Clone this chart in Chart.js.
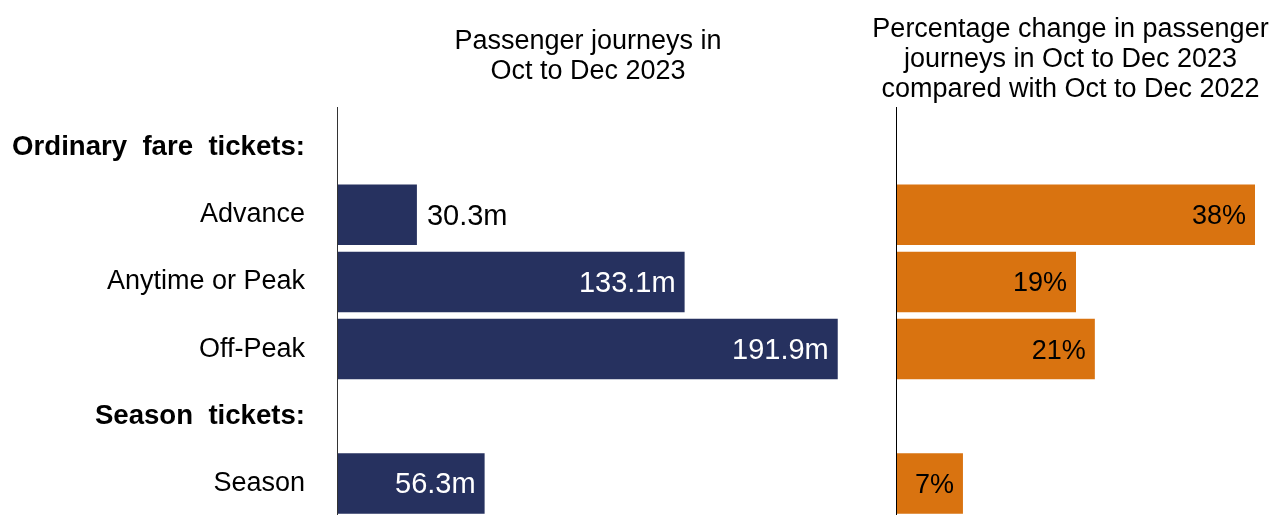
<!DOCTYPE html>
<html>
<head>
<meta charset="utf-8">
<script src="https://cdn.jsdelivr.net/npm/chart.js@4"></script>
<style>
    html, body { margin: 0; padding: 0; background: #fff; overflow: hidden; }
    #wrap { position: relative; width: 1280px; height: 515px; }
    #chartJourneys { position: absolute; left: 0; top: 0; }
    #chartChange { position: absolute; left: 860px; top: 0; }
</style>
</head>
<body>
<div id="wrap">
    <canvas id="chartJourneys" width="860" height="517"></canvas>
    <canvas id="chartChange" width="421" height="517"></canvas>
</div>
<script>
var categories = ['Ordinary  fare  tickets:', 'Advance', 'Anytime or Peak', 'Off-Peak', 'Season  tickets:', 'Season'];
var headerRows = [true, false, false, false, true, false];
var journeys   = [null, 30.3, 133.1, 191.9, null, 56.3];
var pctChange  = [null, 38, 19, 21, null, 7];
var journeysTitle = ['Passenger journeys in', 'Oct to Dec 2023'];
var changeTitle   = ['Percentage change in passenger', 'journeys in Oct to Dec 2023', 'compared with Oct to Dec 2022'];

var FONT = "'Liberation Sans', Arial, sans-serif";
Chart.defaults.font.family = FONT;
Chart.defaults.font.size = 27;
Chart.defaults.color = '#000';
Chart.defaults.animation = false;

// vertical axis line, starts a little above the first row
function axisLine(color) {
    return {
        id: 'axisLine',
        afterDraw: function (chart) {
            var ctx = chart.ctx, a = chart.chartArea;
            ctx.save();
            ctx.strokeStyle = color;
            ctx.lineWidth = 1;
            ctx.beginPath();
            ctx.moveTo(Math.round(a.left) - 0.5, 107);
            ctx.lineTo(Math.round(a.left) - 0.5, a.bottom);
            ctx.stroke();
            ctx.restore();
        }
    };
}

// value labels: inside the bar end, or just outside when the bar is too short
function valueLabels(fmt, insideColor, size) {
    return {
        id: 'valueLabels',
        afterDatasetsDraw: function (chart) {
            var ctx = chart.ctx;
            var meta = chart.getDatasetMeta(0);
            var data = chart.data.datasets[0].data;
            ctx.save();
            ctx.font = size + 'px ' + FONT;
            ctx.textBaseline = 'middle';
            meta.data.forEach(function (bar, i) {
                if (data[i] == null) return;
                var txt = fmt(data[i]);
                var w = ctx.measureText(txt).width;
                var len = bar.x - bar.base;
                if (w + 18 > len) {
                    ctx.fillStyle = '#000';
                    ctx.textAlign = 'left';
                    ctx.fillText(txt, bar.x + 10, bar.y + 2);
                } else {
                    ctx.fillStyle = insideColor;
                    ctx.textAlign = 'right';
                    ctx.fillText(txt, bar.x - 9, bar.y + 2);
                }
            });
            ctx.restore();
        }
    };
}

new Chart(document.getElementById('chartJourneys'), {
    type: 'bar',
    data: {
        labels: categories,
        datasets: [{
            data: journeys,
            backgroundColor: '#26315F',
            categoryPercentage: 1,
            barPercentage: 0.9
        }]
    },
    options: {
        indexAxis: 'y',
        responsive: false,
        layout: { padding: { left: 0, right: 22, top: 0, bottom: 0 } },
        plugins: {
            legend: { display: false },
            tooltip: { enabled: false },
            title: {
                display: true,
                text: journeysTitle,
                fullSize: false,
                font: { size: 27, weight: 'normal', lineHeight: 1.111 },
                padding: { top: 27, bottom: 27 }
            }
        },
        scales: {
            x: { display: false, min: 0, max: 192 },
            y: {
                grid: { display: false, drawTicks: false },
                border: { display: false },
                ticks: {
                    padding: 33,
                    font: function (c) {
                        return headerRows[c.index] ? { size: 27.6, weight: 'bold' } : { size: 27, weight: 'normal' };
                    }
                },
                afterFit: function (scale) {
                    scale.width = 338;
                    // rows are offset, labels never reach past the ends
                    scale.paddingTop = 0;
                    scale.paddingBottom = 0;
                }
            }
        }
    },
    plugins: [axisLine('#333'), valueLabels(function (v) { return v.toFixed(1) + 'm'; }, '#fff', 29)]
});

new Chart(document.getElementById('chartChange'), {
    type: 'bar',
    data: {
        labels: categories,
        datasets: [{
            data: pctChange,
            backgroundColor: '#D97310',
            categoryPercentage: 1,
            barPercentage: 0.9
        }]
    },
    options: {
        indexAxis: 'y',
        responsive: false,
        layout: { padding: 0 },
        plugins: {
            legend: { display: false },
            tooltip: { enabled: false },
            title: {
                display: true,
                text: changeTitle,
                font: { size: 27, weight: 'normal', lineHeight: 1.111 },
                padding: { top: 15, bottom: 9 }
            }
        },
        scales: {
            x: { display: false, min: 0, max: 38 },
            y: {
                grid: { display: false, drawTicks: false },
                border: { display: false },
                ticks: { display: false },
                afterFit: function (scale) { scale.width = 37; }
            },
            // empty strip on the right so the title has room and stays centred
            y2: {
                type: 'category',
                position: 'right',
                grid: { display: false, drawTicks: false },
                border: { display: false },
                ticks: { display: false },
                afterFit: function (scale) { scale.width = 26; }
            }
        }
    },
    plugins: [axisLine('#000'), valueLabels(function (v) { return v + '%'; }, '#000', 27)]
});
</script>
</body>
</html>
